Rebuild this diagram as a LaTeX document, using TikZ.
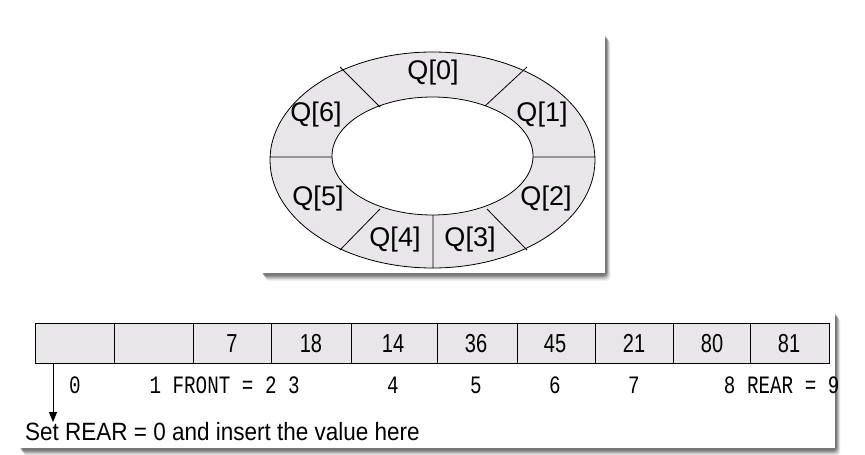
\documentclass[tikz,border=0pt]{standalone}
\usepackage{fontspec}
\setmainfont{Liberation Sans}
\setmonofont{Liberation Mono}
\usetikzlibrary{arrows.meta}
\newcommand{\narrowtxt}[1]{\scalebox{0.77}[1]{#1}}
\begin{document}
\begin{tikzpicture}[x=1pt,y=-1pt,
  ql/.style={font=\fontsize{27}{27}\selectfont},
  cell/.style={draw,fill=ringgray,line width=1pt},
  val/.style={font=\fontsize{26}{26}\selectfont,anchor=base},
  idx/.style={font=\ttfamily\fontsize{25}{25}\selectfont,anchor=base},
  div/.style={line width=0.8pt}]
\definecolor{ringgray}{HTML}{E8E6E8}
\useasboundingbox (0,0) rectangle (865,455);
\foreach \o/\op in {9/0.05,8/0.06,7/0.08,6/0.1,5/0.12,4/0.14,3/0.16}{
  \fill[black,opacity=\op,rounded corners=4pt] (260+\o*0.6,32+\o*0.9) rectangle (605+\o*0.6,273+\o*0.9);
  \fill[black,opacity=\op,rounded corners=4pt] (18+\o*0.6,310+\o*0.9) rectangle (835+\o*0.6,448+\o*0.9);
}
\node[fill=white,minimum width=345pt,minimum height=241pt,inner sep=0] (tp) at (432.5,152.5) {};
\draw[fill=ringgray,line width=0.8pt] (432.5,160) ellipse [x radius=162.5,y radius=108];
\draw[fill=white,line width=0.8pt] (432.5,156) ellipse [x radius=100.5,y radius=59];
\draw[div] (270,157) -- (332,157) (533,157) -- (595,157) (433,215) -- (433,268)
  (340,67) -- (380,107) (527,67) -- (485,106) (380,209) -- (340,250) (487,209) -- (527,250);
\node[ql] (q0) at (433,73) {Q[0]};
\node[ql] (q1) at (542,115) {Q[1]};
\node[ql] (q2) at (546,199) {Q[2]};
\node[ql] (q3) at (470,240) {Q[3]};
\node[ql] (q4) at (395,240) {Q[4]};
\node[ql] (q5) at (318,199) {Q[5]};
\node[ql] (q6) at (316,115) {Q[6]};
\node[fill=white,minimum width=817pt,minimum height=138pt,inner sep=0] (bp) at (426.5,379) {};
\foreach \a/\b/\v/\x [count=\i from 0] in {35/114//0,114/193//0,193/271/7/232,271/351/18/311,351/437/14/393,437/517/36/476,517/595/45/555,595/673/21/634,673/750/80/712,750/829/81/789}{
  \draw[cell] (\a,323) rectangle (\b,363);
  \node[val] (c\i) at (\x,352) {\narrowtxt{\v}};
}
\coordinate (as) at (53,363);
\coordinate (ae) at (53,422);
\draw[line width=1pt,-{Triangle[length=10pt,width=8pt]}] (as) -- (ae);
\node[idx] (i0) at (75,393) {\narrowtxt{0}};
\node[idx,anchor=base west] (i1) at (146,393) {\narrowtxt{1 FRONT = 2 3}};
\node[idx] (i4) at (393,393) {\narrowtxt{4}};
\node[idx] (i5) at (476,393) {\narrowtxt{5}};
\node[idx] (i6) at (555,393) {\narrowtxt{6}};
\node[idx] (i7) at (634,393) {\narrowtxt{7}};
\node[idx,anchor=base east] (i8) at (843,393) {\narrowtxt{8 REAR = 9}};
\node[anchor=base west,inner sep=0,font=\fontsize{25}{25}\selectfont] (note) at (25,440) {\scalebox{0.9}[1]{Set REAR = 0 and insert the value here}};
\end{tikzpicture}
\end{document}
